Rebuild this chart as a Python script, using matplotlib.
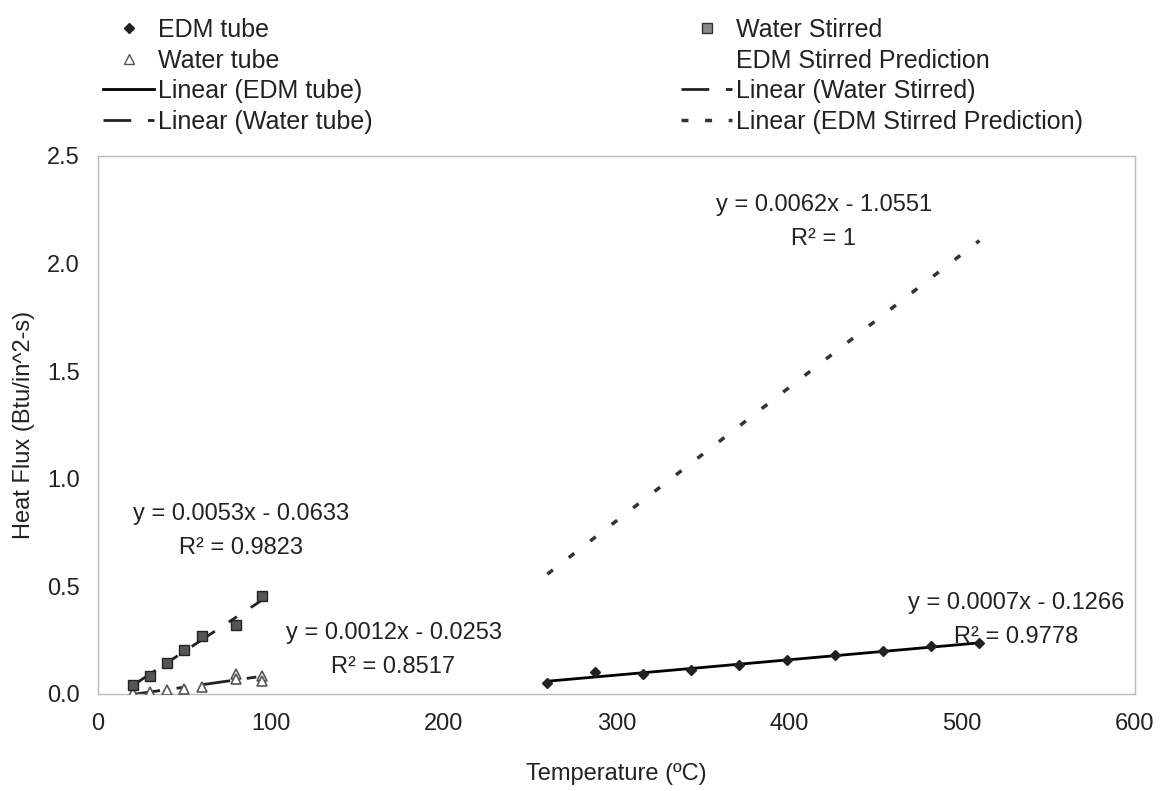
import matplotlib.pyplot as plt
import numpy as np
from matplotlib.lines import Line2D

plt.rcParams['font.family'] = ['Liberation Sans', 'DejaVu Sans']
plt.rcParams['font.size'] = 17

# EDM tube (measured)
edm_t = [260.0, 287.8, 315.6, 343.3, 371.1, 398.9, 426.7, 454.4, 482.2, 510.0]
edm_q = [0.052, 0.100, 0.095, 0.110, 0.133, 0.156, 0.182, 0.199, 0.222, 0.236]

# Water tube
wt_t = [20, 30, 40, 50, 60, 80, 80, 95, 95]
wt_q = [0.003, 0.008, 0.018, 0.024, 0.034, 0.095, 0.070, 0.085, 0.062]

# Water stirred
ws_t = [20, 30, 40, 50, 60, 80, 95]
ws_q = [0.040, 0.085, 0.145, 0.205, 0.270, 0.320, 0.455]

# EDM stirred prediction (no markers shown in the original)
pred_t = [260.0, 287.8, 315.6, 343.3, 371.1, 398.9, 426.7, 454.4, 482.2, 510.0]
pred_q = [0.557, 0.729, 0.902, 1.073, 1.246, 1.418, 1.591, 1.762, 1.934, 2.107]

eq_edm = 'y = 0.0007x - 0.1266\nR² = 0.9778'
eq_wt = 'y = 0.0012x - 0.0253\nR² = 0.8517'
eq_ws = 'y = 0.0053x - 0.0633\nR² = 0.9823'
eq_pred = 'y = 0.0062x - 1.0551\nR² = 1'


def trend(x, y):
    x = np.asarray(x, float)
    k, b = np.polyfit(x, y, 1)
    xs = np.array([x.min(), x.max()])
    return xs, k * xs + b


fig = plt.figure(figsize=(11.64, 7.91), dpi=100)
ax = fig.add_axes([98 / 1164, 1 - 694 / 791, 1037 / 1164, 538 / 791])

dash_ld = (0, (10, 6, 3.5, 6))
dot = (0, (2, 5.8))
dot_leg = (0, (2, 4.8))
txt = '#222222'

# trend lines
xs, ys = trend(edm_t, edm_q)
ax.plot(xs, ys, color='black', lw=2, zorder=2)
xs, ys = trend(wt_t, wt_q)
ax.plot(xs, ys, color='#222222', lw=2, linestyle=dash_ld, zorder=2)
xs, ys = trend(ws_t, ws_q)
ax.plot(xs, ys, color='#222222', lw=2, linestyle=dash_ld, zorder=2)
xs, ys = trend(pred_t, pred_q)
ax.plot(xs, ys, color='#333333', lw=2.5, linestyle=dot, zorder=2)

# markers
ax.plot(edm_t, edm_q, linestyle='none', marker='D', ms=5.5, color='#222222', zorder=3)
ax.plot(wt_t, wt_q, linestyle='none', marker='^', ms=7.5, mfc='white',
        mec='#555555', mew=1.2, zorder=3)
ax.plot(ws_t, ws_q, linestyle='none', marker='s', ms=7.5, mfc='#555555',
        mec='#222222', mew=1, zorder=3)
ax.plot(pred_t, pred_q, linestyle='none', marker='none')

for x, y, s in [(82.8, 0.757, eq_ws), (171, 0.204, eq_wt),
                (420, 2.193, eq_pred), (531, 0.345, eq_edm)]:
    ax.text(x, y, s, ha='center', va='center', fontsize=17,
            linespacing=1.7, color=txt)

ax.set_xlim(0, 600)
ax.set_ylim(0, 2.5)
ax.set_xticks(np.arange(0, 601, 100))
ax.set_yticks(np.arange(0, 2.51, 0.5))
ax.set_yticklabels(['%.1f' % v for v in np.arange(0, 2.51, 0.5)])
ax.tick_params(length=0, labelsize=17, colors=txt)
ax.tick_params(axis='x', pad=14)
ax.tick_params(axis='y', pad=13)
for s in ax.spines.values():
    s.set_color('#bbbbbb')
    s.set_linewidth(1)
ax.set_xlabel('Temperature (ºC)', fontsize=17, labelpad=20, color=txt)
ax.set_ylabel('Heat Flux (Btu/in^2-s)', fontsize=17, labelpad=9, color=txt)

h1 = [Line2D([], [], linestyle='none', marker='D', ms=5.5, color='#222222'),
      Line2D([], [], linestyle='none', marker='^', ms=7.5, mfc='white', mec='#555555'),
      Line2D([], [], color='black', lw=2),
      Line2D([], [], color='#222222', lw=2, linestyle=dash_ld)]
l1 = ['EDM tube', 'Water tube', 'Linear (EDM tube)', 'Linear (Water tube)']
h2 = [Line2D([], [], linestyle='none', marker='s', ms=6.5, mfc='#888888', mec='#333333'),
      Line2D([], [], linestyle='none'),
      Line2D([], [], color='#222222', lw=2, linestyle=dash_ld),
      Line2D([], [], color='#333333', lw=2.5, linestyle=dot_leg)]
l2 = ['Water Stirred', 'EDM Stirred Prediction', 'Linear (Water Stirred)',
      'Linear (EDM Stirred Prediction)']

kw = dict(loc='upper left', frameon=False, fontsize=18, handlelength=2.05,
          handletextpad=0.15, labelspacing=0.26, borderaxespad=0,
          labelcolor=txt)
fig.legend(h1, l1, bbox_to_anchor=(93 / 1164, 1 - 8 / 791), **kw)
fig.legend(h2, l2, bbox_to_anchor=(671 / 1164, 1 - 8 / 791), **kw)

fig.savefig('out.png', dpi=100, facecolor='white')
